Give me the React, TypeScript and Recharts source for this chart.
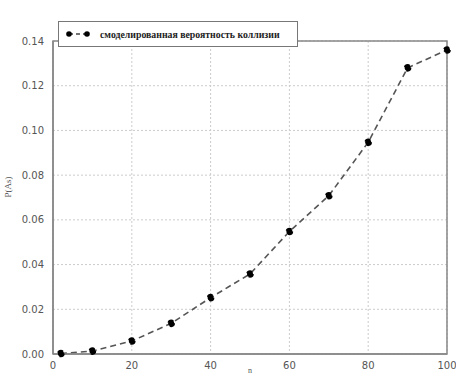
import React from "react";
import { LineChart, Line, XAxis, YAxis, CartesianGrid, Legend, ReferenceArea } from "recharts";

const nValues = [2, 10, 20, 30, 40, 50, 60, 70, 80, 90, 100];
const probValues = [0.0002, 0.0013, 0.0058, 0.0137, 0.0252, 0.0358, 0.0548, 0.0708, 0.0947, 0.128, 0.136];
const xTicks = [0, 20, 40, 60, 80, 100];
const yTicks = [0, 0.02, 0.04, 0.06, 0.08, 0.1, 0.12, 0.14];
const seriesName = "смоделированная вероятность коллизии";

const data = nValues.map((n, i) => ({ n, p: probValues[i] }));

const LegendBox = () => (
  <div
    style={{
      border: "1.5px solid #777",
      background: "#fff",
      width: 240,
      height: 26,
      boxSizing: "border-box",
      display: "flex",
      alignItems: "center",
      whiteSpace: "nowrap",
      fontFamily: "'Liberation Serif', serif",
      fontWeight: 700,
      fontSize: 9.8,
      color: "#222",
    }}
  >
    <svg width={36} height={10} style={{ marginLeft: 5, flex: "none" }}>
      <line x1={5} y1={5} x2={23} y2={5} stroke="#444" strokeWidth={1.5} strokeDasharray="4 3" />
      <circle cx={5} cy={5} r={2.8} fill="#000" />
      <circle cx={23} cy={5} r={2.8} fill="#000" />
    </svg>
    <span>{seriesName}</span>
  </div>
);

export default function App() {
  return (
    <div style={{ position: "absolute", left: 0, top: 0, width: 456, height: 376, background: "#fff" }}>
      <LineChart width={456} height={376} data={data} margin={{ top: 15, right: 9, bottom: 0, left: 0 }}>
        <CartesianGrid stroke="#ccc" strokeDasharray="2 2" />
        <XAxis
          dataKey="n"
          type="number"
          domain={[0, 100]}
          ticks={xTicks}
          height={22}
          tickLine={false}
          axisLine={{ stroke: "#888", strokeWidth: 1.5 }}
          tick={{ fill: "#555", fontSize: 10, fontFamily: "'DejaVu Sans', sans-serif" }}
          tickMargin={2}
          label={{ value: "n", position: "insideBottom", offset: 3, fill: "#555", fontSize: 8 }}
        />
        <YAxis
          type="number"
          domain={[0, 0.14]}
          ticks={yTicks}
          width={53}
          tickLine={false}
          axisLine={{ stroke: "#888", strokeWidth: 1.5 }}
          tick={{ fill: "#555", fontSize: 10, fontFamily: "'DejaVu Sans', sans-serif" }}
          tickFormatter={(v: number) => v.toFixed(2)}
          tickMargin={3}
          label={{ value: "P(As)", angle: -90, position: "insideLeft", offset: 8, fill: "#555", fontSize: 9 }}
        />
        <ReferenceArea x1={0} x2={100} y1={0} y2={0.14} fill="none" stroke="#888" strokeWidth={1.5} ifOverflow="visible" />
        <Legend
          verticalAlign="top"
          align="left"
          content={() => <LegendBox />}
          wrapperStyle={{ top: 21, left: 58, width: "auto" }}
        />
        <Line
          dataKey="p"
          name={seriesName}
          stroke="#555"
          strokeWidth={1.6}
          strokeDasharray="6 4"
          dot={{ r: 3, fill: "#000", stroke: "#000" }}
          isAnimationActive={false}
        />
      </LineChart>
    </div>
  );
}
